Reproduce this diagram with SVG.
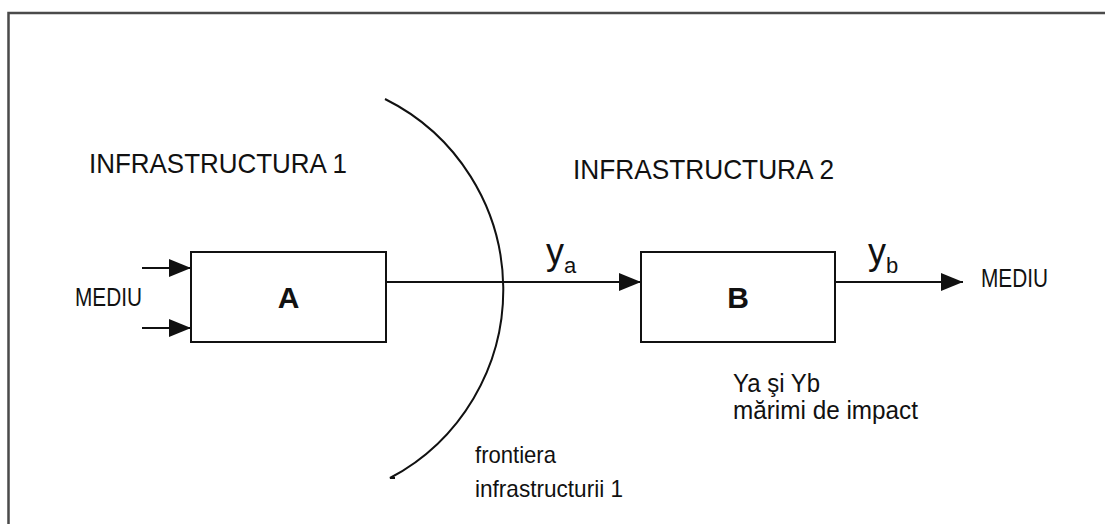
<svg xmlns="http://www.w3.org/2000/svg" width="1105" height="524" viewBox="0 0 1105 524">
<style>
.t{font-family:"Liberation Sans",Arial,sans-serif;fill:#111;}
.box{fill:#fff;stroke:#111;stroke-width:2;}
.ln{stroke:#111;stroke-width:2;fill:none;}
</style>
<defs>
<marker id="ah" markerWidth="22" markerHeight="18" refX="22" refY="9" orient="auto" markerUnits="userSpaceOnUse">
<path d="M0,0 L22,9 L0,18 Z" fill="#111"/>
</marker>
</defs>
<rect width="1105" height="524" fill="#fff"/>
<path d="M8.5,524 V13 H1105" fill="none" stroke="#4a4a4a" stroke-width="2.5"/>
<g id="boundary">
<path d="M385,99 A213,213 0 0 1 390,478 L395,478" class="ln" stroke-width="1.8"/>
</g>
<g id="connectors">
<line x1="142" y1="268" x2="191" y2="268" class="ln" marker-end="url(#ah)"/>
<line x1="142" y1="328" x2="191" y2="328" class="ln" marker-end="url(#ah)"/>
<line x1="386" y1="282" x2="641" y2="282" class="ln" marker-end="url(#ah)"/>
<line x1="835" y1="282" x2="963" y2="282" class="ln" marker-end="url(#ah)"/>
</g>
<g id="nodeA">
<rect x="191" y="252" width="195" height="90" class="box"/>
<text x="288.5" y="308" class="t" font-size="30" font-weight="bold" text-anchor="middle">A</text>
</g>
<g id="nodeB">
<rect x="641" y="252" width="194" height="90" class="box"/>
<text x="738" y="308" class="t" font-size="30" font-weight="bold" text-anchor="middle">B</text>
</g>
<g id="labels">
<text x="89" y="173" class="t" font-size="28" textLength="258" lengthAdjust="spacingAndGlyphs">INFRASTRUCTURA 1</text>
<text x="573" y="179" class="t" font-size="28" textLength="261" lengthAdjust="spacingAndGlyphs">INFRASTRUCTURA 2</text>
<text x="75" y="306" class="t" font-size="26" textLength="67" lengthAdjust="spacingAndGlyphs">MEDIU</text>
<text x="981" y="287" class="t" font-size="26" textLength="67" lengthAdjust="spacingAndGlyphs">MEDIU</text>
<text x="546" y="264" class="t" font-size="36">y<tspan font-size="22" dy="9">a</tspan></text>
<text x="868" y="264" class="t" font-size="36">y<tspan font-size="22" dy="9">b</tspan></text>
<text x="733" y="392" class="t" font-size="25" textLength="87" lengthAdjust="spacingAndGlyphs">Ya şi Yb</text>
<text x="733" y="419" class="t" font-size="25" textLength="185" lengthAdjust="spacingAndGlyphs">mărimi de impact</text>
<text x="475" y="463" class="t" font-size="24" textLength="81" lengthAdjust="spacingAndGlyphs">frontiera</text>
<text x="475" y="497" class="t" font-size="24" textLength="148" lengthAdjust="spacingAndGlyphs">infrastructurii 1</text>
</g>
</svg>
